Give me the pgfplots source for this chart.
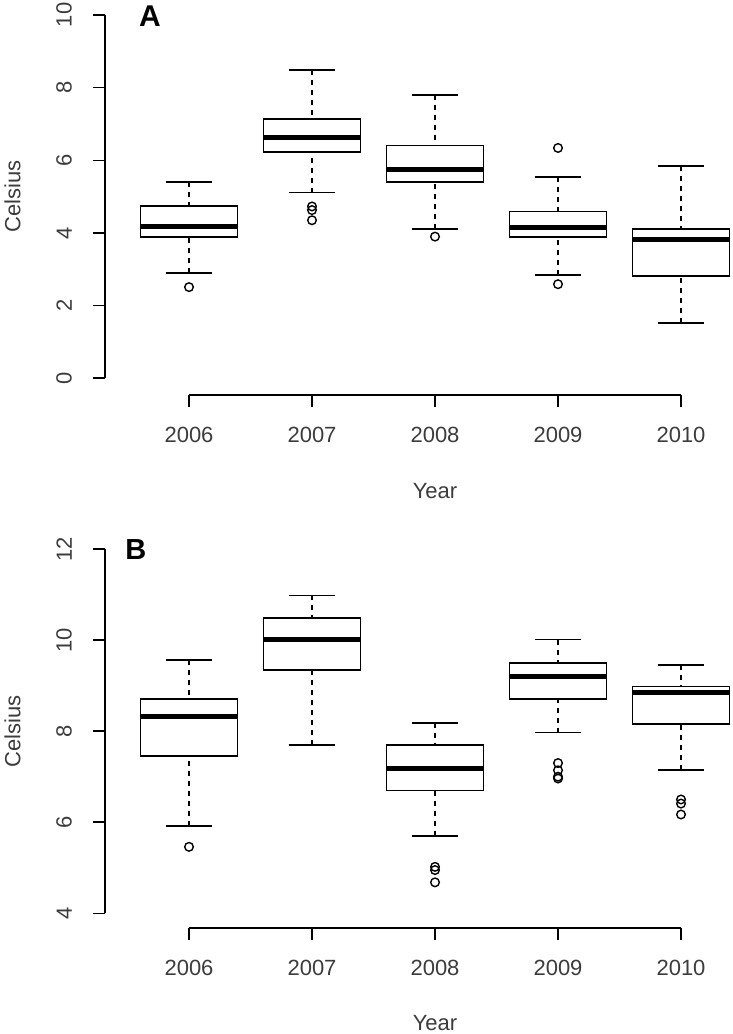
\documentclass[border=0pt]{standalone}
\usepackage{fontspec}
\setmainfont{Liberation Sans}
\usepackage{pgfplots}
\pgfplotsset{compat=1.18}
\usepgfplotslibrary{statistics}
\definecolor{txt}{RGB}{60,60,60}
\pgfplotsset{
  rbox/.style={
    clip=false,
    axis line style={draw=none},
    tick align=outside,
    xtick pos=left, ytick pos=left,
    minor tick num=0,
    major tick length=12pt,
    tick style={line width=1.6pt, black},
    xtick={1,2,3,4,5},
    xticklabels={2006,2007,2008,2009,2010},
    x=123pt, xmin=0.317, xmax=5.42,
    /pgf/number format/assume math mode=true,
    tick label style={font=\fontsize{22}{26}\selectfont, text=txt},
    xticklabel style={anchor=north, inner sep=0pt},
    yticklabel style={rotate=90, anchor=south, inner sep=0pt},
    xticklabel shift=20pt,
    yticklabel shift=21pt,
    boxplot/draw direction=y,
    boxplot/box extend=0.79,
    boxplot/whisker extend=0.38,
    boxplot/every box/.style={line width=1.7pt},
    boxplot/every median/.style={line width=5pt},
    boxplot/draw/lower whisker/.code={
      \draw[line width=1.5pt, dash pattern=on 5pt off 5pt]
        (boxplot cs:\pgfplotsboxplotvalue{lower whisker}) -- (boxplot cs:\pgfplotsboxplotvalue{lower quartile});
      \draw[line width=1.7pt]
        (boxplot whisker cs:\pgfplotsboxplotvalue{lower whisker},0) -- (boxplot whisker cs:\pgfplotsboxplotvalue{lower whisker},1);
    },
    boxplot/draw/upper whisker/.code={
      \draw[line width=1.5pt, dash pattern=on 5pt off 5pt]
        (boxplot cs:\pgfplotsboxplotvalue{upper whisker}) -- (boxplot cs:\pgfplotsboxplotvalue{upper quartile});
      \draw[line width=1.7pt]
        (boxplot whisker cs:\pgfplotsboxplotvalue{upper whisker},0) -- (boxplot whisker cs:\pgfplotsboxplotvalue{upper whisker},1);
    },
  },
  bx/.style={black, line width=1.7pt, solid, mark=o, mark size=4.3pt, mark options={solid, line width=1.4pt}},
}
\begin{document}
\begin{tikzpicture}
\useasboundingbox (0,0) rectangle (733pt,-1034pt);
% ---------------- Panel A ----------------
\begin{axis}[rbox,
  at={(105pt,-395pt)}, anchor=south west,
  y=36.33pt, ymin=-0.46, ymax=10.4,
  ytick={0,2,4,6,8,10},
  every axis x label/.style={at={(axis cs:3,-0.46)}, anchor=base, yshift=-103pt, font=\fontsize{22}{26}\selectfont, text=txt},
  every axis y label/.style={at={([xshift=-84.5pt]axis cs:0.317,5)}, rotate=90, anchor=base, font=\fontsize{22}{26}\selectfont, text=txt},
  xlabel={Year}, ylabel={Celsius}]
\addplot[bx, boxplot prepared={draw position=1, lower whisker=2.90, lower quartile=3.89, median=4.19, upper quartile=4.75, upper whisker=5.41}]
  table[row sep=\\, y index=0] {y\\ 2.51\\};
\addplot[bx, boxplot prepared={draw position=2, lower whisker=5.11, lower quartile=6.23, median=6.63, upper quartile=7.14, upper whisker=8.48}]
  table[row sep=\\, y index=0] {y\\ 4.73\\ 4.63\\ 4.35\\};
\addplot[bx, boxplot prepared={draw position=3, lower whisker=4.11, lower quartile=5.41, median=5.76, upper quartile=6.41, upper whisker=7.80}]
  table[row sep=\\, y index=0] {y\\ 3.90\\};
\addplot[bx, boxplot prepared={draw position=4, lower whisker=2.85, lower quartile=3.89, median=4.16, upper quartile=4.59, upper whisker=5.54}]
  table[row sep=\\, y index=0] {y\\ 6.34\\ 2.59\\};
\addplot[bx, boxplot prepared={draw position=5, lower whisker=1.52, lower quartile=2.81, median=3.81, upper quartile=4.11, upper whisker=5.85}]
  coordinates {};
\draw[line width=1.7pt] (axis cs:0.317,0) -- (axis cs:0.317,10);
\draw[line width=1.7pt] (axis cs:1,-0.46) -- (axis cs:5,-0.46);
\node[anchor=base, font=\bfseries\fontsize{30}{32}\selectfont] at (axis cs:0.683,9.67) {A};
\end{axis}
% ---------------- Panel B ----------------
\begin{axis}[rbox,
  at={(105pt,-927.7pt)}, anchor=south west,
  y=45.54pt, ymin=3.684, ymax=12.3,
  ytick={4,6,8,10,12},
  every axis x label/.style={at={(axis cs:3,3.684)}, anchor=base, yshift=-103pt, font=\fontsize{22}{26}\selectfont, text=txt},
  every axis y label/.style={at={([xshift=-84.5pt]axis cs:0.317,8)}, rotate=90, anchor=base, font=\fontsize{22}{26}\selectfont, text=txt},
  xlabel={Year}, ylabel={Celsius}]
\addplot[bx, boxplot prepared={draw position=1, lower whisker=5.92, lower quartile=7.46, median=8.32, upper quartile=8.70, upper whisker=9.56}]
  table[row sep=\\, y index=0] {y\\ 5.46\\};
\addplot[bx, boxplot prepared={draw position=2, lower whisker=7.69, lower quartile=9.35, median=10.01, upper quartile=10.49, upper whisker=10.98}]
  coordinates {};
\addplot[bx, boxplot prepared={draw position=3, lower whisker=5.70, lower quartile=6.70, median=7.18, upper quartile=7.69, upper whisker=8.18}]
  table[row sep=\\, y index=0] {y\\ 5.02\\ 4.95\\ 4.68\\};
\addplot[bx, boxplot prepared={draw position=4, lower whisker=7.97, lower quartile=8.70, median=9.19, upper quartile=9.49, upper whisker=10.01}]
  table[row sep=\\, y index=0] {y\\ 7.30\\ 7.14\\ 7.00\\ 6.96\\};
\addplot[bx, boxplot prepared={draw position=5, lower whisker=7.15, lower quartile=8.15, median=8.85, upper quartile=8.98, upper whisker=9.46}]
  table[row sep=\\, y index=0] {y\\ 6.50\\ 6.41\\ 6.17\\};
\draw[line width=1.7pt] (axis cs:0.317,4) -- (axis cs:0.317,12);
\draw[line width=1.7pt] (axis cs:1,3.684) -- (axis cs:5,3.684);
\node[anchor=base, font=\bfseries\fontsize{29}{32}\selectfont] at (axis cs:0.567,11.78) {B};
\end{axis}
\end{tikzpicture}
\end{document}
